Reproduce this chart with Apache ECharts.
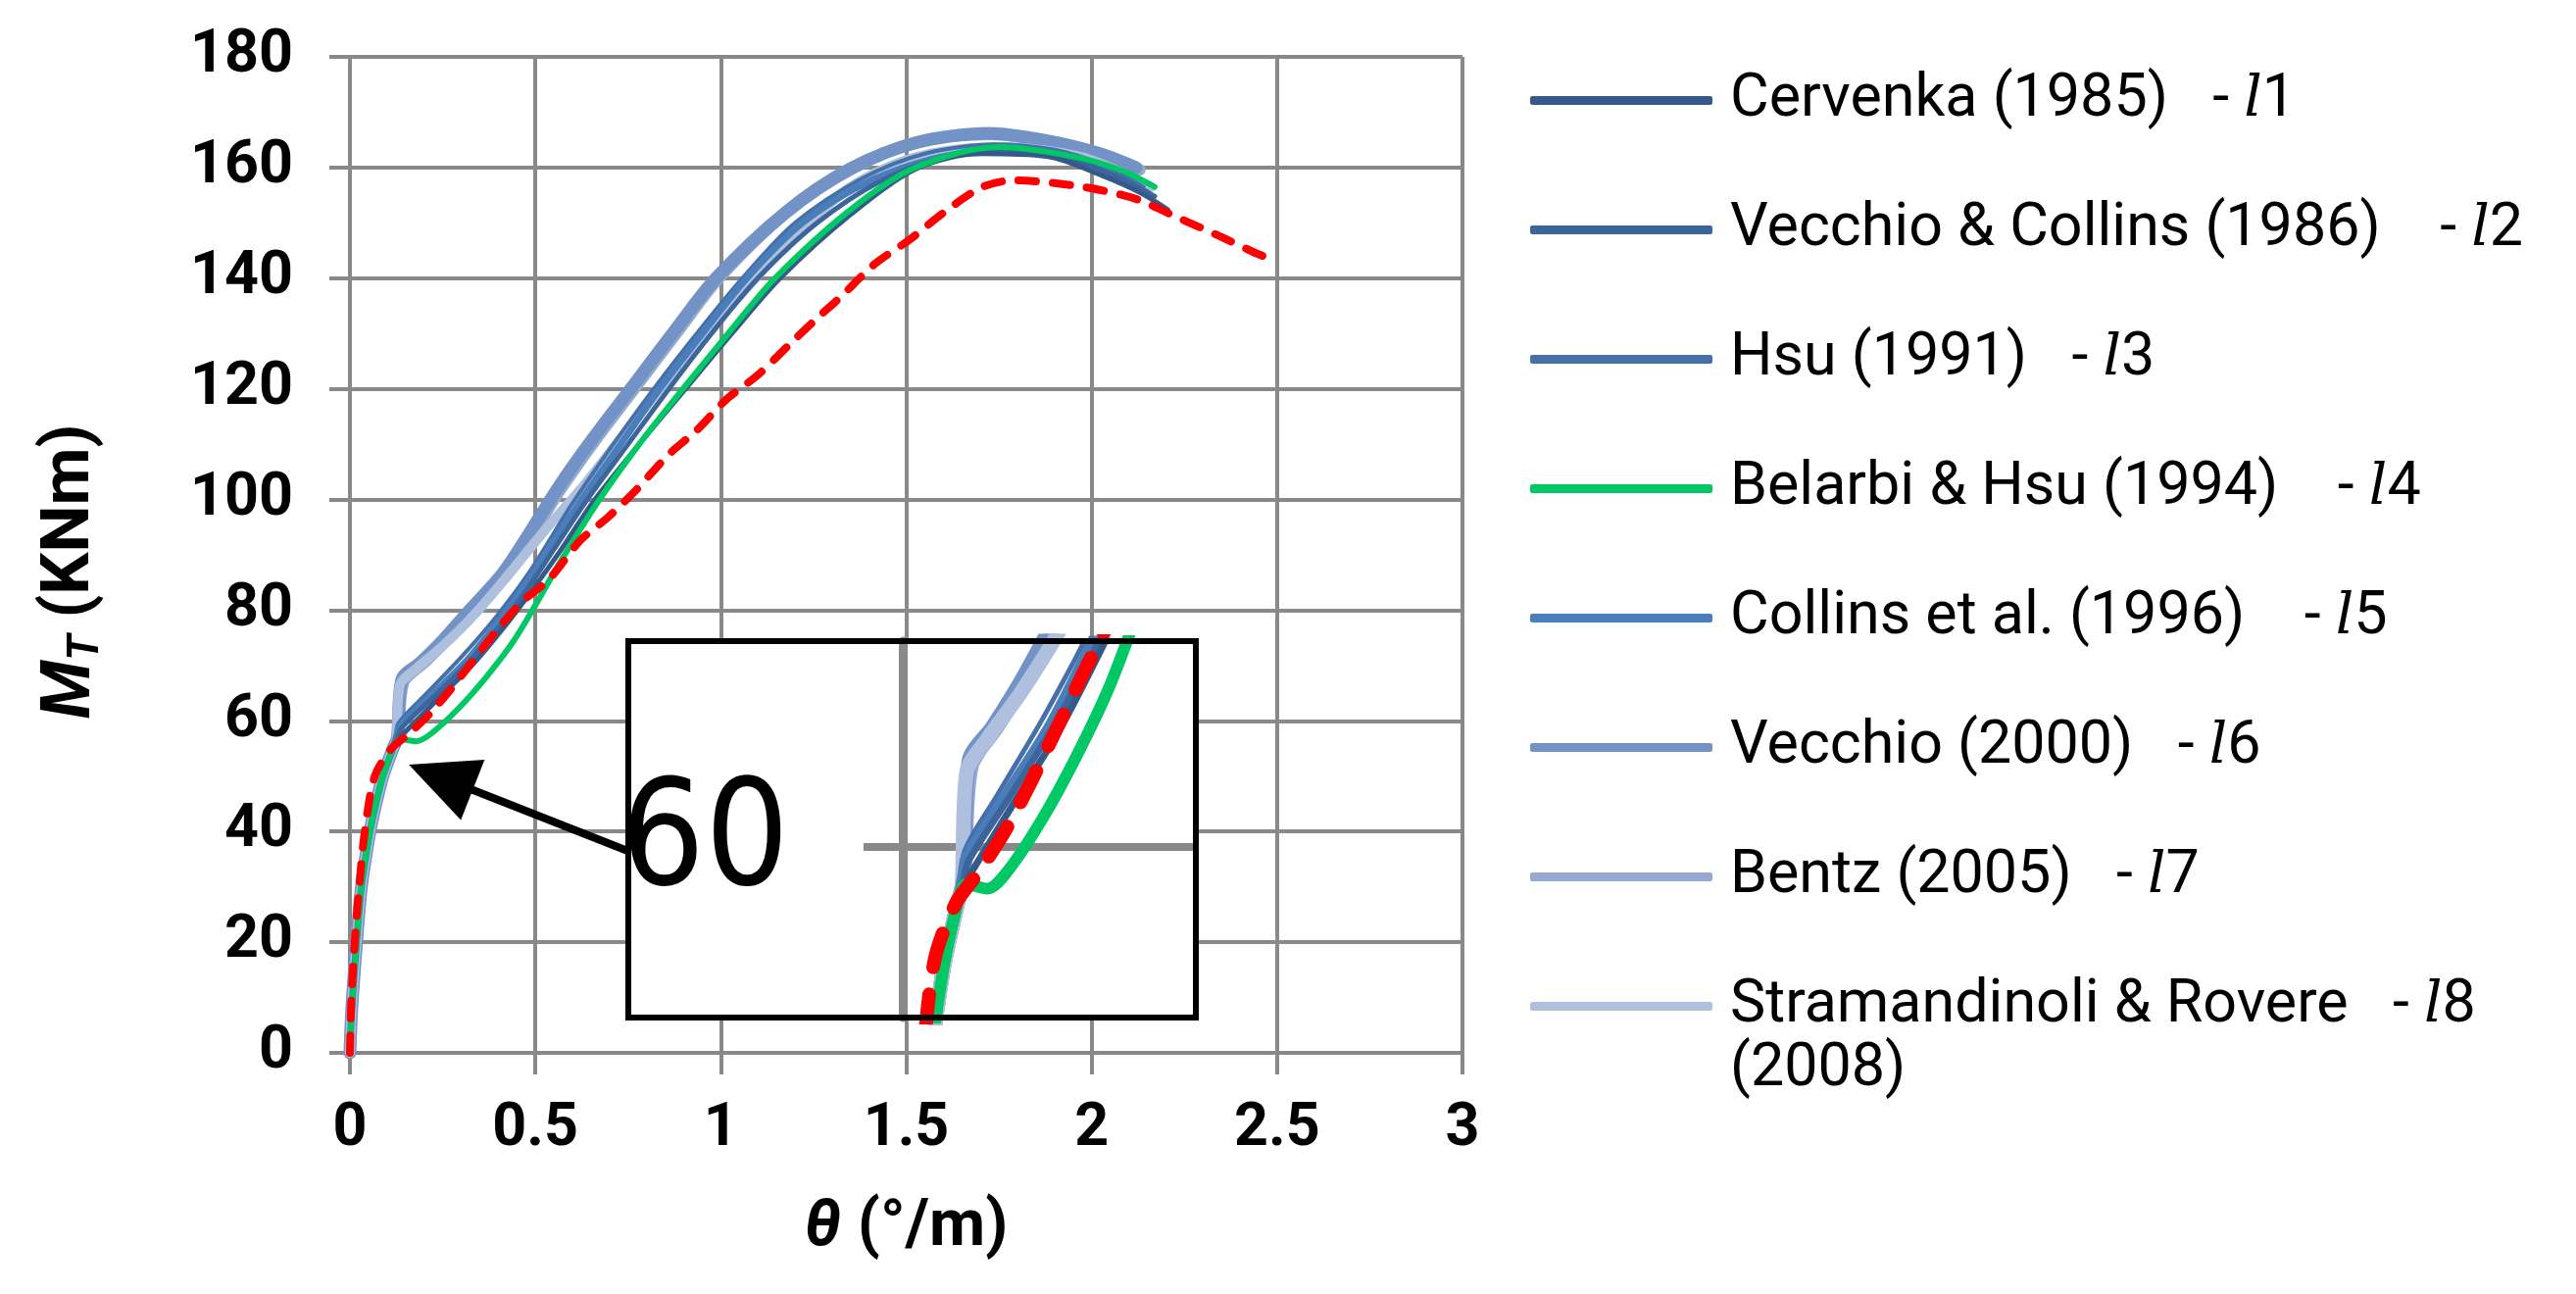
<!DOCTYPE html>
<html>
<head>
<meta charset="utf-8">
<script src="https://cdn.jsdelivr.net/npm/echarts@6/dist/echarts.min.js"></script>
<style>html,body{margin:0;padding:0;background:#fff}#c{width:2628px;height:1320px}</style>
</head>
<body>
<div id="c"></div>
<script>
// ---------------- DATA ----------------
// theta (deg/m), M_T (kNm)
const elastic = [[0,0],[0.005,8],[0.018,20],[0.031,30],[0.054,40],[0.07,45],[0.089,50],[0.116,55]];

const cervenka = elastic.concat([[0.128,56.5],[0.152,58.2],[0.241,64.2],[0.33,70.1],[0.42,77.3],[0.49,83.5],[0.565,90.5],[0.655,99.5],[0.78,110],[0.905,120],[1.03,130],[1.16,140],[1.35,151.5],[1.528,159.8],[1.7,162.5],[1.88,162],[2.03,158.5],[2.13,155.5],[2.205,152.4]]);
const vecchioCollins = elastic.concat([[0.128,57],[0.14,58.8],[0.23,64.6],[0.32,70.6],[0.41,77.6],[0.48,84],[0.55,91],[0.64,100],[0.75,110],[0.86,120],[0.975,130],[1.1,140],[1.26,150],[1.43,157.5],[1.6,161.8],[1.78,162.9],[1.95,161.4],[2.08,158],[2.17,154.8]]);
const hsu = elastic.concat([[0.124,57],[0.13,59.5],[0.2,64.5],[0.3,71.5],[0.4,79.3],[0.49,87.5],[0.597,99],[0.705,109.5],[0.819,120],[0.935,130],[1.058,140],[1.2,150],[1.38,158],[1.55,162.5],[1.74,164.2],[1.9,163.2],[2.03,160.5],[2.14,156.5]]);
const belarbiHsu = elastic.concat([[0.134,56.7],[0.179,56.3],[0.223,57.9],[0.295,62.4],[0.366,67.8],[0.437,74],[0.5,80.9],[0.5625,88.2],[0.668,99.5],[0.78,110],[0.898,120],[1.02,130],[1.146,140],[1.35,152.4],[1.528,160.1],[1.75,163.7],[1.95,162],[2.08,159.5],[2.17,156.5]]);
const collins = elastic.concat([[0.127,57.5],[0.134,59],[0.223,64.8],[0.3125,70.7],[0.40,77.9],[0.475,84.8],[0.545,92],[0.62,99.5],[0.725,109.5],[0.835,120],[0.95,130],[1.07,140],[1.22,150],[1.4,157.5],[1.617,162.2],[1.795,162.8],[1.973,161],[2.151,155.4]]);
const vecchio2000 = elastic.concat([[0.128,57],[0.14,67.5],[0.19,70.5],[0.25,74.5],[0.32,79.8],[0.41,86.5],[0.48,93.5],[0.56,102],[0.655,111],[0.757,120],[0.87,130],[0.987,140],[1.173,151.8],[1.35,159.8],[1.528,164.5],[1.724,166.2],[1.884,164.8],[2.018,162.6],[2.12,160]]);
const bentz = elastic.concat([[0.13,57.5],[0.145,67],[0.2,70.5],[0.26,74.5],[0.33,79.8],[0.42,86.5],[0.49,93.5],[0.57,102],[0.665,111],[0.767,120],[0.88,130],[0.995,140],[1.18,152],[1.36,160],[1.54,164.8],[1.73,166],[1.89,164.5],[2.02,162.2],[2.13,159.6]]);
const stramandinoli = elastic.concat([[0.125,56.5],[0.135,66.5],[0.18,69.5],[0.25,73.5],[0.33,78.8],[0.42,85.8],[0.52,94],[0.624,102],[0.73,111],[0.836,120],[0.96,130],[1.093,140],[1.173,145.8],[1.35,156.5],[1.528,161.9],[1.742,163.7],[1.973,161.9],[2.16,156.5]]);
const experimental = [[0,0],[0.004,10],[0.013,20],[0.025,30],[0.04,40],[0.067,50],[0.112,55],[0.156,57.5],[0.214,61.2],[0.268,65.4],[0.33,70.7],[0.40,76.7],[0.464,81.5],[0.537,85.6],[0.621,92.6],[0.696,96.8],[0.77,101.6],[0.859,108.1],[0.935,112.5],[1.017,118.2],[1.10,122.5],[1.185,128],[1.252,132.3],[1.323,136.6],[1.414,142.5],[1.51,147],[1.6,151.8],[1.706,156.5],[1.795,157.7],[1.91,157.1],[2.018,156],[2.125,154.2],[2.224,151.2],[2.335,147.9],[2.437,144.7],[2.47,143.8]];

const legendNames = ['Cervenka (1985)','Vecchio & Collins (1986)','Hsu (1991)','Belarbi & Hsu (1994)','Collins et al. (1996)','Vecchio (2000)','Bentz (2005)','Stramandinoli & Rovere (2008)'];
const legendTags = ['1','2','3','4','5','6','7','8'];
const legendSpaces = [3,4,3,4,4,3,3,3];
const insetLabels = [60];
// arrow annotation (data coords): tail at inset edge, head near knee
const arrowTail = [0.749, 36.5];
const arrowHead = [0.245, 49.8];

// ---------------- STYLE ----------------
const GRAY = '#898989';
const FONT = 'Roboto, "Noto Sans", sans-serif';
const NARROW = '"Liberation Sans Narrow", "DejaVu Sans Condensed", Roboto, sans-serif';

const seriesDefs = [
  // [data, legend index, color, main width, inset width]
  [bentz, 6, '#95AAD0', 12, 15],
  [vecchio2000, 5, '#7393C6', 13, 15],
  [stramandinoli, 7, '#AEC0DD', 10, 15],
  [hsu, 2, '#4570AA', 4, 5],
  [collins, 4, '#4A7EBB', 7, 11],
  [vecchioCollins, 1, '#3C659B', 5, 7],
  [cervenka, 0, '#34598A', 5, 7],
  [belarbiHsu, 3, '#00C864', 6, 12]
];

const series = [];
[0, 1].forEach(function (g) {
  seriesDefs.forEach(function (d) {
    series.push({
      type: 'line', name: legendNames[d[1]], data: d[0],
      xAxisIndex: g, yAxisIndex: g, showSymbol: false, symbol: 'none',
      smooth: 0.3, clip: true, color: d[2], z: g ? 12 : 2, silent: true,
      lineStyle: { color: d[2], width: g ? d[4] : d[3], cap: 'round', join: 'round' }
    });
  });
  const red = {
    type: 'line', name: 'Experimental', data: experimental,
    xAxisIndex: g, yAxisIndex: g, showSymbol: false, symbol: 'none',
    smooth: 0.3, clip: true, color: '#FF0000', z: g ? 13 : 3, silent: true,
    lineStyle: { color: '#FF0000', width: g ? 14 : 8, type: g ? [36, 28] : [18, 17], cap: 'round' }
  };
  if (!g) {
    red.markLine = {
      silent: true, symbol: ['none', 'triangle'], symbolSize: [66, 70],
      label: { show: false },
      lineStyle: { color: '#000', width: 8, type: 'solid' },
      itemStyle: { color: '#000' },
      emphasis: { disabled: true },
      data: [[{ coord: arrowTail }, { coord: arrowHead }]]
    };
  }
  series.push(red);
});

const option = {
  animation: false,
  backgroundColor: '#fff',
  grid: [
    { left: 357, top: 58, width: 1135, height: 1016, show: false },
    { left: 921, top: 654, width: 299, height: 384, show: false, z: 10 }
  ],
  xAxis: [
    {
      type: 'value', gridIndex: 0, min: 0, max: 3, interval: 0.5,
      axisLine: { show: true, onZero: false, lineStyle: { color: GRAY, width: 4 } },
      axisTick: { show: true, length: 22, lineStyle: { color: GRAY, width: 4 } },
      splitLine: { show: true, lineStyle: { color: GRAY, width: 4 } },
      axisLabel: { fontFamily: FONT, fontWeight: 'bold', fontSize: 61, color: '#000', margin: 48 },
      name: '{i|θ} (°/m)', nameLocation: 'middle', nameGap: 146,
      nameTextStyle: { fontFamily: FONT, fontWeight: 'bold', fontSize: 66, color: '#000',
        rich: { i: { fontFamily: FONT, fontWeight: 'bold', fontStyle: 'italic', fontSize: 66, color: '#000' } } }
    },
    {
      type: 'value', gridIndex: 1, min: 0, max: 0.62, z: 11,
      axisLine: { show: false }, axisTick: { show: false }, axisLabel: { show: false }, splitLine: { show: false }
    }
  ],
  yAxis: [
    {
      type: 'value', gridIndex: 0, min: 0, max: 180, interval: 20,
      axisLine: { show: true, lineStyle: { color: GRAY, width: 4 } },
      axisTick: { show: true, length: 21, lineStyle: { color: GRAY, width: 4 } },
      splitLine: { show: true, lineStyle: { color: GRAY, width: 4 } },
      axisLabel: { fontFamily: FONT, fontWeight: 'bold', fontSize: 61, color: '#000', margin: 58 },
      name: '{m|M}{s|T} (KNm)', nameLocation: 'middle', nameGap: 246, nameRotate: 90,
      nameTextStyle: { fontFamily: FONT, fontWeight: 'bold', fontSize: 68, color: '#000', lineHeight: 76,
        padding: [0, 34, 0, 0],
        rich: {
          m: { fontFamily: FONT, fontWeight: 'bold', fontStyle: 'italic', fontSize: 70, lineHeight: 76, color: '#000' },
          s: { fontFamily: FONT, fontWeight: 'bold', fontStyle: 'italic', fontSize: 44, lineHeight: 38, verticalAlign: 'bottom', color: '#000' }
        } }
    },
    {
      type: 'value', gridIndex: 1, min: 45, max: 78, z: 11,
      axisLine: { show: true, lineStyle: { color: GRAY, width: 9 } },
      axisTick: { show: true, customValues: insetLabels, length: 40, lineStyle: { color: GRAY, width: 8 } },
      splitLine: { show: true, lineStyle: { color: GRAY, width: 8 } },
      axisLabel: { customValues: insetLabels, fontFamily: NARROW, fontSize: 150, color: '#000', margin: 116 }
    }
  ],
  legend: {
    data: legendNames, orient: 'vertical', left: 1561, top: 72, padding: 0,
    itemGap: 71, itemWidth: 186, itemHeight: 9, icon: 'roundRect', selectedMode: false,
    textStyle: { fontFamily: FONT, fontSize: 61, color: '#000', lineHeight: 60, padding: [0, 0, 0, 13],
      rich: { it: { fontFamily: '"DejaVu Serif", "Liberation Serif", serif', fontStyle: 'italic', fontSize: 58, lineHeight: 60, color: '#000' } } },
    formatter: function (name) {
      const i = legendNames.indexOf(name);
      const base = name.replace(' (2008)', '');
      return base + ' '.repeat(legendSpaces[i]) + '- {it|l}' + legendTags[i];
    }
  },
  graphic: [
    { type: 'rect', z: 5, silent: true, shape: { x: 641, y: 654, width: 579, height: 384 }, style: { fill: '#fff', stroke: null } },
    { type: 'rect', z: 30, silent: true, shape: { x: 641, y: 654, width: 579, height: 384 }, style: { fill: null, stroke: '#000', lineWidth: 6 } },
    { type: 'text', z: 30, silent: true, x: 1765, y: 1092, style: { text: '(2008)', font: '61px ' + FONT, fill: '#000', verticalAlign: 'middle', align: 'left' } }
  ],
  series: series
};

const chart = echarts.init(document.getElementById('c'), null, { renderer: 'canvas' });
chart.setOption(option);
</script>
</body>
</html>
